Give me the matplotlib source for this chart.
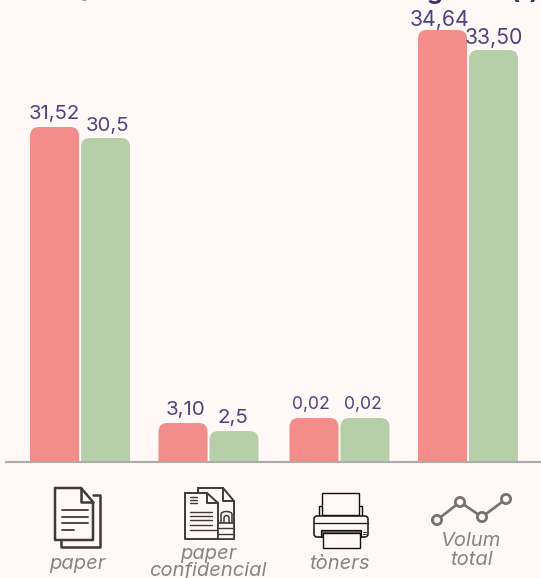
import matplotlib
matplotlib.use("Agg")
import matplotlib.pyplot as plt
from matplotlib.path import Path
from matplotlib.patches import PathPatch, Rectangle, Circle, FancyBboxPatch

FONT = "Inter"
plt.rcParams["font.family"] = [FONT, "DejaVu Sans"]

# ---- data ----
categories = ["paper", "paper\nconfidencial", "tòners", "Volum\ntotal"]
labels_a = ["31,52", "3,10", "0,02", "34,64"]
labels_b = ["30,5", "2,5", "0,02", "33,50"]
# the reference bars are not to scale with their labels: heights as drawn
heights_a = [335, 39, 44, 432]
heights_b = [324, 31, 44, 412]
title_head = "Quantitat total de residus en "
title_tail = "gestió (t)"

# ---- layout ----
W, H = 541, 578
BASE = 462
GROUP_X = [80, 208.5, 339.5, 468]
OFFSET = 25.5
BAR_W = 49
BG, RED, GREEN, INK, AXIS, GREY, ICON = ("#FFF8F6", "#F28D8C", "#B6CFA8",
                                         "#49457F", "#ABABAB", "#858585", "#3C3A3A")
LABEL_PT = [14.6, 14.8, 12.6, 15.3]
DX_A = [-0.5, 2.5, -3.5, -2.5]
DX_B = [2, -1.5, -2, 0]
GAP_A = [12.5, 12.5, 13.5, 9.5]
GAP_B = [11.5, 12.5, 13.5, 12]

fig = plt.figure(figsize=(W / 100, H / 100), dpi=100, facecolor=BG)
ax = fig.add_axes([0, 0, 1, 1])
ax.set_xlim(0, W)
ax.set_ylim(-(H - BASE), BASE)
ax.axis("off")


def round_top(rect, r=9):
    x, y, w, h = rect.get_x(), rect.get_y(), rect.get_width(), rect.get_height()
    r = min(r, h)
    v = [(x, y), (x, y + h - r), (x, y + h), (x + r, y + h), (x + w - r, y + h),
         (x + w, y + h), (x + w, y + h - r), (x + w, y), (x, y)]
    c = [Path.MOVETO, Path.LINETO, Path.CURVE3, Path.CURVE3, Path.LINETO,
         Path.CURVE3, Path.CURVE3, Path.LINETO, Path.CLOSEPOLY]
    rect.set_visible(False)
    ax.add_patch(PathPatch(Path(v, c), fc=rect.get_facecolor(), ec="none", zorder=2))


xa = [g - OFFSET for g in GROUP_X]
xb = [g + OFFSET for g in GROUP_X]
for rect in ax.bar(xa, heights_a, BAR_W, color=RED):
    round_top(rect)
for rect in ax.bar(xb, heights_b, BAR_W, color=GREEN):
    round_top(rect)

for xs, hs, ls, dxs, gaps in ((xa, heights_a, labels_a, DX_A, GAP_A),
                              (xb, heights_b, labels_b, DX_B, GAP_B)):
    for x, h, s, pt, dx, gap in zip(xs, hs, ls, LABEL_PT, dxs, gaps):
        ax.text(x + dx, h + gap, s, ha="center", va="center", fontsize=pt, color=INK, zorder=3)

ax.plot([5, W], [0, 0], color=AXIS, lw=1.5, solid_capstyle="butt", zorder=4)

# ---- overlay in pixel coordinates: title remnant, icons, category labels ----
ov = fig.add_axes([0, 0, 1, 1])
ov.set_xlim(0, W)
ov.set_ylim(H, 0)
ov.axis("off")
ov.patch.set_alpha(0)

# the reference title is cut by the top edge: place it so that its "g" falls where it does there
renderer = fig.canvas.get_renderer()
probe = ov.text(0, 0, title_head.replace(" ", "\u00a0"), fontsize=18.4, fontweight="bold")
head_w = probe.get_window_extent(renderer).width
probe.remove()
ov.text(427 - head_w, -0.6, title_head + title_tail, fontsize=18.4, fontweight="bold",
        color="#35326B", ha="left", va="baseline", clip_on=False)

LX = [77, 208, 339, 471]
LY = [[564], [554, 571], [564], [541, 560]]
for x, ys, cat in zip(LX, LY, categories):
    for y, part in zip(ys, cat.split("\n")):
        ov.text(x, y, part, ha="center", va="center", fontsize=14.5, style="italic", color=GREY)


def line(pts, lw=1.4, color=ICON, close=False, fc="none", z=5):
    v = list(pts) + ([pts[0]] if close else [])
    c = [Path.MOVETO] + [Path.LINETO] * (len(v) - 1)
    ov.add_patch(PathPatch(Path(v, c), fc=fc, ec=color, lw=lw, joinstyle="round",
                           capstyle="round", zorder=z))


def doc(l, t, fx, fy, r, b, lw=1.4):
    line([(l, t), (fx, t), (r, fy), (r, b), (l, b)], lw=lw, close=True, fc=BG)
    line([(fx, t), (fx, fy), (r, fy)], lw=lw)


# paper
line([(61, 541), (61, 547), (100, 547), (100, 495), (93, 495)], lw=1.8)
doc(55, 488, 81, 502, 93, 540, lw=1.8)
for y, x1 in zip([510, 516.5, 523, 529.5], [88, 88, 88, 74]):
    line([(62, y), (x1, y)], lw=1.3)

# confidential paper
doc(198, 488, 223, 501, 234, 539, lw=1.4)
doc(185, 493, 207, 503, 218, 539, lw=1.4)
for y in [497, 500, 503]:
    line([(190, y), (197, y)], lw=1.0)
for y, x1 in zip([512, 516, 520, 525, 530], [212, 212, 212, 212, 216]):
    line([(190, y), (x1, y)], lw=1.0)
ov.add_patch(Rectangle((218, 523), 16, 16, fc=BG, ec=ICON, lw=1.2, zorder=6))
for y in [528, 533.5]:
    line([(218, y), (234, y)], lw=1.0, z=7)
for x0, x1, top in ((221, 232, 511.5), (224, 229, 515.5)):
    xm = (x0 + x1) / 2
    t = [(x0, 523), (x0, top + 3), (x0, top), (xm, top), (x1, top), (x1, top + 3), (x1, 523)]
    ov.add_patch(PathPatch(Path(t, [Path.MOVETO, Path.LINETO, Path.CURVE3, Path.CURVE3,
                                    Path.CURVE3, Path.CURVE3, Path.LINETO]),
                           fc="none", ec=ICON, lw=1.1, zorder=6))

# printer
line([(319, 515), (319, 506), (322, 506)], lw=1.0, color="#111111")
line([(362, 515), (362, 506), (359, 506)], lw=1.0, color="#111111")
ov.add_patch(Rectangle((322, 493), 37, 22, fc=BG, ec="#111111", lw=1.0, zorder=5))
ov.add_patch(FancyBboxPatch((314, 516), 54, 21, boxstyle="round,pad=0,rounding_size=3",
                            fc=BG, ec="#111111", lw=1.1, zorder=5))
line([(314, 523), (368, 523)], lw=0.9, color="#111111", z=6)
ov.add_patch(Rectangle((321, 530), 40, 7, fc="#666666", ec="#111111", lw=0.9, zorder=6))
ov.add_patch(Rectangle((323, 533), 37, 15, fc=BG, ec="#111111", lw=1.0, zorder=7))
for y in [532, 534, 536]:
    line([(363, y), (366, y)], lw=0.7, color="#333333", z=6)

# trend icon
px = [437, 460, 482, 506]
py = [520, 502, 517, 499]
line(list(zip(px, py)), lw=1.9, color="#737373")
for x, y in zip(px, py):
    ov.add_patch(Circle((x, y), 4.6, fc=BG, ec="#737373", lw=2.0, zorder=6))

fig.savefig("out.png", dpi=100, facecolor=BG)
